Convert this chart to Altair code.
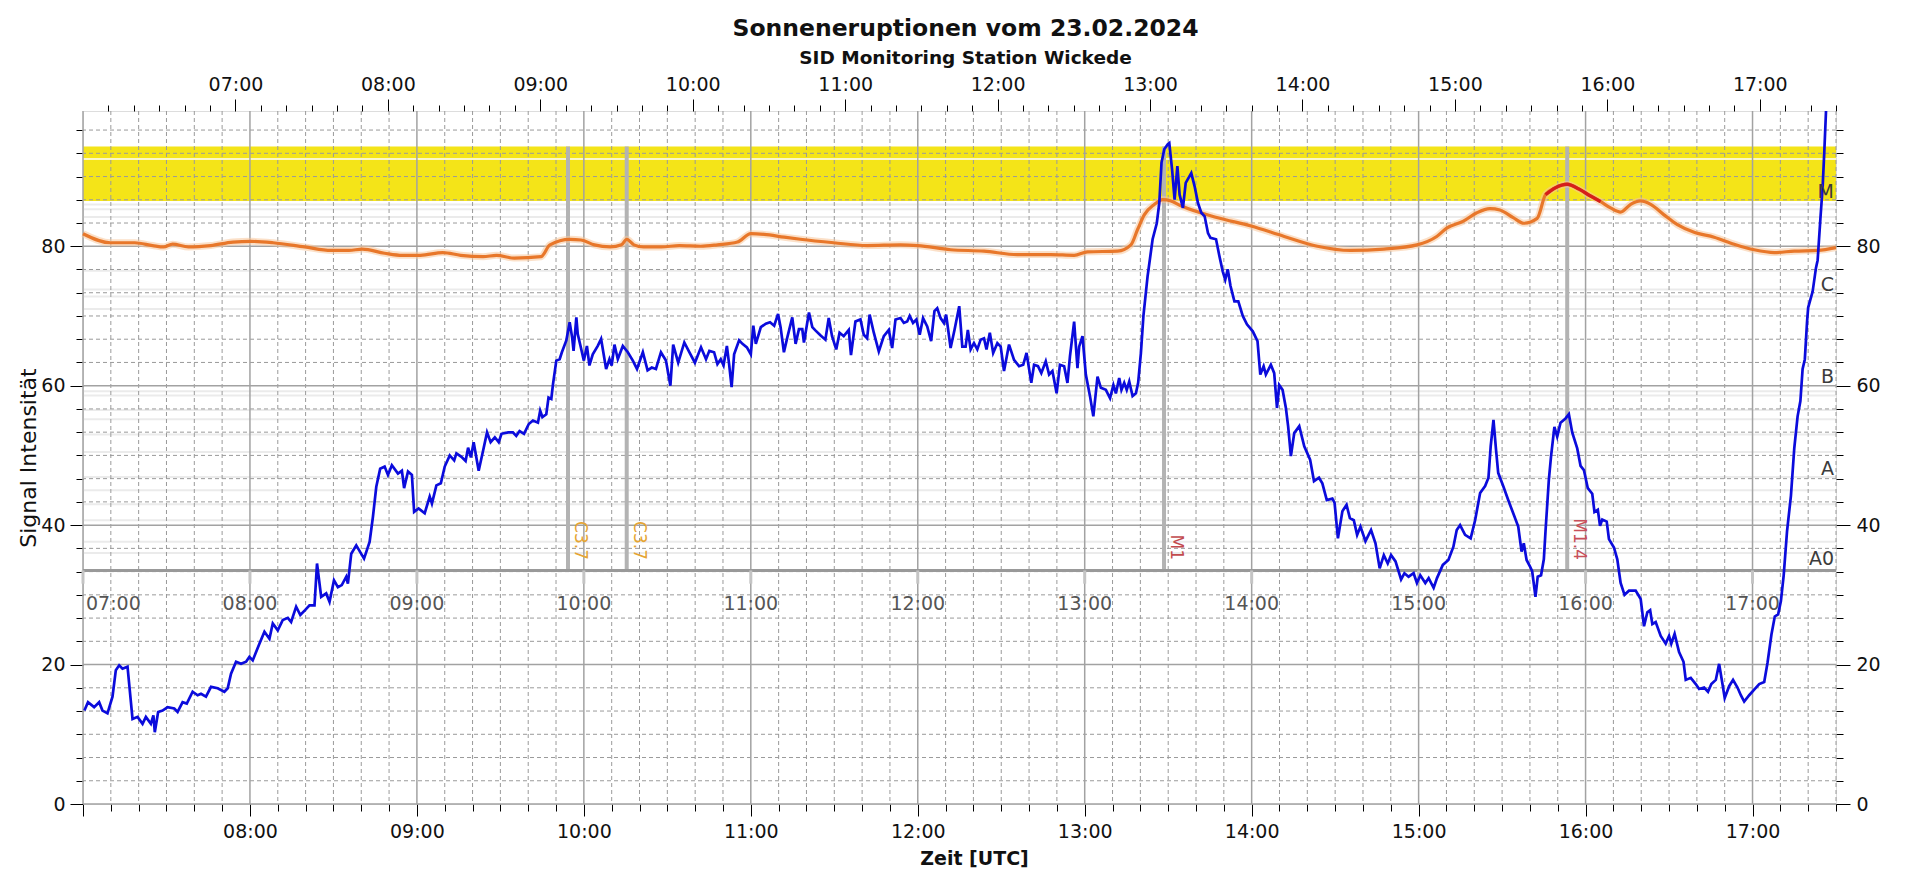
import altair as alt
import pandas as pd

# ---------------- data ----------------
# blue signal: (minutes after 07:00 UTC, value)
blue_a = [(0.5,13.4),(1.8,14.6),(4.0,13.9),(5.8,14.6),(7.0,13.4),(8.8,13.0),(10.6,15.4),(11.8,19.2),(13.0,19.9),
          (14.2,19.4),(16.0,19.7),(17.8,12.2),(19.6,12.5),(21.4,11.5),(22.6,12.5),(24.4,11.5),(25.3,12.7),(25.8,10.3),
          (27.0,13.2),(28.6,13.4),(30.4,13.9),(32.8,13.7),(34.0,13.2),(35.8,14.6),(37.3,14.4),(39.4,16.1),(41.2,15.6),
          (42.4,15.8),(44.2,15.4),(46.0,16.8),(48.4,16.6),(50.8,16.1),(52.0,16.6),(53.2,18.7),(55.0,20.4),(56.8,20.1),
          (58.6,20.4),(59.8,21.1),(61.0,20.6),(63.4,23.0),(65.2,24.7),(67.0,23.7),(68.2,25.9),(70.0,24.9),(71.8,26.4),
          (73.6,26.7),(74.8,26.1),(76.6,28.3),(78.1,27.1),(79.8,27.8),(81.4,28.5),(83.2,28.5),(84.1,34.5),(85.6,29.7),
          (87.4,30.2),(88.6,29.0),(90.2,32.1),(91.6,31.1),(93.0,31.4),(94.6,32.6),(95.2,31.6),(96.4,35.9),(98.2,37.1),
          (101.0,35.2),(103.0,37.6),(104.2,41.2),(105.4,45.5),(106.8,48.1),(108.4,48.4),(109.6,47.2),(111.0,48.6),
          (113.2,47.4),(114.6,47.8),(115.4,45.3),(116.8,47.7),(118.2,47.2),(119.0,41.9),(120.6,42.4),(122.8,41.7),
          (124.6,44.1),(125.4,43.1),(127.0,45.7),(128.6,46.0),(130.0,48.4),(131.8,50.0),(133.4,49.3),(134.2,50.3),
          (136.0,49.8)]
blue_b = [(137.5,49.2),(138.4,51.1),(139.4,49.7),(140.4,51.9),(142.2,47.8),(143.8,50.7),(145.2,53.3),(146.5,51.9),
          (148.0,52.6),(149.4,51.9),(150.4,53.1),(152.8,53.3),(154.5,53.3),(155.7,52.8),(156.9,53.5),(158.5,53.1),
          (160.2,54.5),(161.7,55.0),(163.5,54.7),(164.3,56.4),(165.1,55.5),(166.5,55.9),(167.3,58.3),(168.3,58.1),
          (168.9,60.2),(170.1,63.6),(171.3,63.8),(172.1,64.8),(173.7,66.5),(174.9,69.1),(175.8,66.9),(176.3,65.0),
          (177.3,69.8),(177.8,67.4),(178.8,65.7),(180.0,63.6),(181.1,65.7),(182.0,62.9),(183.2,64.5),(185.0,65.7),
          (186.2,66.7),(188.0,62.4),(189.2,63.8),(190.0,62.9),(191.0,65.9),(192.2,63.8),(194.0,65.7),(195.8,64.8),
          (197.6,63.6),(199.1,62.4),(201.2,64.8),(202.9,62.2),(204.4,62.6),(205.9,62.4),(207.7,64.8),(209.5,63.6),
          (211.1,60.0),(212.1,65.9),(213.9,63.3),(216.1,66.2),(217.9,64.8),(219.9,63.3),(222.1,65.5),(223.9,63.8),
          (225.1,65.0),(226.8,64.8),(228.0,63.1),(229.2,63.8),(230.2,62.9),(231.4,65.7),(232.2,63.1),(233.1,59.8),
          (234.0,64.5),(235.8,66.5),(237.0,66.0),(238.6,65.5),(240.0,64.5),(240.9,68.6),(241.8,66.0),(243.6,68.4),
          (245.4,68.9),(246.9,69.1),(248.4,68.6),(249.8,70.3),(250.7,68.4),(251.9,64.8),(253.1,66.9),(254.9,69.8),
          (256.1,66.0),(257.3,68.1),(258.5,68.1),(259.1,66.2),(260.9,70.5),(262.1,68.4),(263.3,67.9),(265.1,67.2)]
blue_c = [(266.8,66.6),(268.0,69.7),(269.2,67.1),(270.7,65.2),(271.9,67.6),(273.4,67.1),(275.2,68.0),(276.0,64.4),
          (277.6,69.2),(279.4,69.5),(280.6,67.3),(281.8,66.8),(282.7,70.2),(284.2,67.6),(286.0,64.9),(287.8,67.1),
          (289.6,68.0),(290.8,65.4),(292.0,69.5),(293.8,69.7),(295.0,69.0),(296.2,69.2),(297.1,70.0),(298.3,69.0),
          (299.5,69.5),(300.7,67.3),(301.9,69.7),(303.4,68.5),(304.8,66.4),(306.0,70.7),(307.0,71.1),(308.2,69.7),
          (309.4,69.0),(310.2,70.2),(311.8,65.4),(313.2,68.0),(314.9,71.4),(316.0,65.6),(317.2,65.6),(318.0,68.0),
          (319.0,65.2),(320.2,66.1),(321.4,65.2),(322.6,66.6),(323.8,66.8),(324.7,65.2),(325.9,67.6),(327.1,64.7),
          (328.6,66.1),(329.8,65.6),(331.0,62.1),(332.8,65.9),(334.6,63.7),(336.4,62.8),(337.9,63.0),(339.1,64.7),
          (340.8,60.4),(341.8,63.0),(343.2,62.8),(344.4,61.8),(346.0,63.5),(347.2,61.6),(348.4,62.1),(349.9,58.9),
          (351.1,63.0),(352.6,62.8),(353.8,60.4),(354.7,64.2),(356.2,69.2),(357.4,62.5),(358.0,65.6),(359.2,67.1),
          (360.4,61.6),(361.9,58.5),(363.1,55.6),(364.6,61.3),(365.8,59.7),(367.6,59.4),(369.1,58.2),(370.3,60.1),
          (371.2,58.9),(372.4,61.1),(373.2,59.4),(374.2,60.4),(375.1,59.4),(376.0,60.6),(377.2,58.5),(378.4,58.9),
          (379.2,60.4),(380.2,64.7),(381.1,70.0),(382.6,75.7),(384.4,81.0),(385.9,83.3),(386.8,86.2),(387.6,92.0),
          (388.6,93.9),(389.8,94.6),(390.4,94.8)]
blue_d = [(391.4,91.0),(392.3,86.7),(393.3,91.5),(394.1,87.4),(395.3,85.5),(396.3,89.1),(398.3,90.5),(399.5,88.6),
          (400.7,86.2),(401.9,84.8),(403.1,84.3),(404.3,81.9),(405.2,81.2),(407.2,81.0),(408.4,78.6),(409.6,76.4),
          (410.5,75.2),(411.4,76.7),(412.4,74.3),(413.8,72.1),(415.2,72.1),(416.8,70.0),(418.3,68.8),(420.4,67.8),
          (422.1,66.4),(423.1,61.6),(424.3,62.8),(425.1,61.6),(426.9,63.0),(428.1,61.8),(429.1,56.8),(429.9,60.1),
          (431.1,59.4),(432.3,56.8),(433.1,54.2),(434.1,49.9),(435.3,53.2),(437.1,54.2),(438.9,51.3),(441.0,49.4),
          (442.4,46.3),(444.2,46.8),(445.4,46.0),(447.0,43.6),(449.0,43.8),(449.8,43.2),(451.0,38.1),(452.6,42.0),
          (454.1,42.9),(455.3,41.0),(456.7,40.7),(457.9,38.6),(459.1,39.8),(460.9,37.7),(462.9,39.3),(464.5,37.4),
          (466.0,33.8),(467.5,35.7),(468.9,34.5),(470.1,35.7),(471.7,34.8),(473.7,32.2),(474.9,33.1),(476.4,32.6),
          (478.2,33.1),(479.4,31.7),(480.6,32.8),(482.4,31.7),(483.6,32.4),(485.4,31.0),(486.6,32.4),(488.7,34.3),
          (490.7,35.0),(492.5,36.9),(493.7,39.3),(494.9,40.0),(496.7,38.6),(498.7,38.1),(500.3,40.7),(502.1,44.6),
          (503.9,45.6),(505.1,46.8),(505.9,51.3),(506.9,55.1),(507.8,50.9),(508.6,47.5),(510.4,45.6),(512.2,43.6),
          (514.0,41.7),(515.8,39.8),(517.0,36.2),(517.8,37.4),(518.8,35.0),(520.0,34.1)]
blue_e = [(520.8,33.4),(522.0,29.7),(522.8,32.6),(524.0,32.8),(525.0,35.1),(525.6,39.1),(526.8,46.5),(527.6,49.9),
          (528.8,54.1),(529.8,52.7),(531.0,54.7),(532.8,55.3),(534.0,55.9),(535.2,53.3),(537.0,51.0),(538.2,48.5),
          (539.4,47.9),(540.8,45.3),(542.4,44.5),(543.2,41.9),(544.4,42.2),(545.2,39.9),(546.0,40.8),(547.6,40.5),
          (548.4,38.0),(550.2,36.8),(551.4,35.1),(552.6,31.7),(554.0,30.0),(555.6,30.6),(558.0,30.6),(559.8,29.4),
          (561.0,25.5),(562.2,27.5),(563.2,27.8),(564.0,25.8),(565.2,26.1),(567.0,24.1),(568.8,23.0),(570.0,24.1),
          (570.8,23.0),(572.0,24.4),(573.6,21.8),(575.2,20.4),(576.0,17.8),(577.8,18.1),(579.6,17.2),(580.8,16.5),
          (582.6,16.7),(584.0,16.1),(585.2,17.2),(586.8,17.8),(588.0,20.1),(589.2,17.2),(590.0,15.2),(591.6,16.9),
          (593.0,17.8),(594.6,16.7),(595.8,15.6),(597.0,14.7),(598.8,15.6),(600.6,16.4),(602.4,17.2),(604.2,17.5),
          (605.4,20.3),(606.8,24.3),(608.0,26.9),(609.2,27.2),(610.2,29.1),(611.2,32.8),(612.4,39.1),(613.8,44.2),
          (615.0,51.0),(616.2,55.6),(617.2,57.8),(618.0,62.4),(618.8,63.8),(619.6,69.2),(620.0,71.2),(621.6,73.5),
          (622.8,76.9),(623.4,78.0),(624.4,84.0),(625.2,88.5),(625.8,93.6),(626.4,99.3),(627.0,103.0)]

# orange reference signal: (minutes after 07:00 UTC, value)
orange_pts = [(0.0,81.8),(9.8,80.5),(18.6,80.5),(25.0,80.1),(29.0,79.9),(32.2,80.3),(37.9,79.9),(45.9,80.1),
              (53.9,80.6),(60.3,80.7),(68.3,80.5),(79.6,79.9),(89.2,79.4),(95.6,79.4),(100.4,79.6),(108.4,79.0),
              (114.8,78.7),(121.3,78.7),(129.3,79.1),(135.7,78.7),(143.8,78.5),(148.6,78.7),(155.0,78.3),(164.6,78.5),
              (167.8,80.2),(175.0,81.0),(179.0,80.9),(183.8,80.2),(189.5,79.9),(193.5,80.2),(195.4,81.0),(198.0,80.2),
              (201.5,79.9),(207.9,79.9),(214.3,80.1),(222.0,80.0),(228.0,80.2),(235.2,80.6),(240.0,81.8),(244.8,81.7),
              (252.0,81.3),(257.8,81.0),(269.8,80.5),(281.8,80.1),(293.8,80.2),(300.0,80.1),(311.8,79.5),(323.8,79.3),
              (335.8,78.8),(347.8,78.8),(356.2,78.7),(361.0,79.2),(371.8,79.3),(376.6,80.2),(379.0,82.4),(381.4,84.5),
              (385.0,86.0),(388.0,86.7),(391.0,86.5),(394.6,85.8),(407.8,84.1),(419.8,82.9),(431.7,81.4),(443.6,80.0),
              (455.5,79.4),(467.5,79.6),(479.4,80.2),(486.5,81.4),(490.1,82.6),(496.1,83.6),(500.9,84.8),(505.6,85.4),
              (509.2,85.2),(514.0,84.1),(517.8,83.3),(522.6,84.0),(525.6,87.4),(529.2,88.4),(533.4,88.9),(537.6,88.2),
              (541.8,87.2),(545.4,86.4),(549.0,85.5),(552.6,84.9),(556.2,86.0),(559.8,86.5),(563.4,86.0),(568.2,84.5),
              (573.0,83.1),(579.0,82.0),(586.2,81.3),(593.4,80.3),(600.6,79.5),(607.8,79.1),(615.0,79.3),(623.4,79.4),
              (630.0,79.8)]

flare_min = [174.3, 195.4, 388.5, 533.4]
flare_text = ["C3.7", "C3.7", "M1", "M1.4"]
flare_color = ["#E5A534", "#E5A534", "#C24B4E", "#C8505A"]

class_text = ["M", "C", "B", "A", "A0"]
class_val = [87.8, 74.5, 61.3, 48.1, 35.1]

band_range = [86.5, 94.3]          # yellow M-band
marker_range = [33.5, 94.3]        # flare marker lines
inner_axis_val = 33.5
inner_tick_end = 31.6
inner_label_val = 28.7
inner_hours = [7, 8, 9, 10, 11, 12, 13, 14, 15, 16, 17]
faint_levels = [92.5, 86.0, 85.3, 84.2, 76.5, 73.8, 72.8, 71.0, 59.2, 58.6, 56.5, 55.2, 53.0,
                50.5, 46.9, 45.0, 43.0, 40.7, 37.6, 36.0]

x_domain = [7.0, 17.5]     # bottom axis (UTC hours)
top_domain = [6.0, 17.5]   # top axis hours
y_domain = [0, 99.4]

# tick positions
x_ticks = [round(7 + i / 6, 4) for i in range(0, 64)]
top_ticks = [round(6 + i / 6, 4) for i in range(1, 70)]
y_ticks = [round(i * 10 / 3, 3) for i in range(0, 30)]

# ---------------- frames ----------------
def to_df(pts, name):
    d = pd.DataFrame(pts, columns=["m", "v"])
    d["t"] = 7 + d["m"] / 60
    d["s"] = name
    return d

blue_df = pd.concat([to_df(p, "b") for p in [blue_a, blue_b, blue_c, blue_d, blue_e]], ignore_index=True)
orange_df = to_df(orange_pts, "o")
flare_df = pd.DataFrame({"t": [7 + m / 60 for m in flare_min], "txt": flare_text, "col": flare_color,
                         "lo": marker_range[0], "hi": marker_range[1], "ly": 35.0})
class_df = pd.DataFrame({"txt": class_text, "v": class_val, "t": x_domain[1]})
band_df = pd.DataFrame({"x0": [x_domain[0]], "x1": [x_domain[1]], "lo": [band_range[0]], "hi": [band_range[1]]})
faint_df = pd.DataFrame({"v": faint_levels, "white": [l == 92.5 for l in faint_levels]})
vminor_df = pd.DataFrame({"t": [t for t in x_ticks if abs(t - round(t)) > 0.01]})
vmajor_df = pd.DataFrame({"t": [t for t in x_ticks if abs(t - round(t)) < 0.01]})
hminor_df = pd.DataFrame({"v": [v for v in y_ticks if abs(v - 20 * round(v / 20)) > 0.01]})
hmajor_df = pd.DataFrame({"v": [v for v in y_ticks if abs(v - 20 * round(v / 20)) < 0.01]})
inner_df = pd.DataFrame({"t": inner_hours, "lab": ["%02d:00" % h for h in inner_hours],
                         "y0": inner_axis_val, "y1": inner_tick_end, "ly": inner_label_val})
axis_line_df = pd.DataFrame({"v": [inner_axis_val]})

FONT = "DejaVu Sans"
xs = alt.Scale(domain=x_domain, nice=False, zero=False)
ys = alt.Scale(domain=y_domain, nice=False, zero=False)

def X(f):
    return alt.X(f, type="quantitative", scale=xs, axis=None)

def Y(f):
    return alt.Y(f, type="quantitative", scale=ys, axis=None)

hour_test = "abs(datum.value - round(datum.value)) < 0.001"
twenty_test = "abs(datum.value - 20*round(datum.value/20)) < 0.01"
hour_label = "(round(datum.value) < 10 ? '0' : '') + round(datum.value) + ':00'"

bottom_axis = alt.Axis(
    orient="bottom", values=x_ticks, grid=False, domain=False,
    labelExpr=f"({hour_test}) && datum.value > 7.5 ? {hour_label} : ''",
    tickSize={"condition": {"test": hour_test, "value": 12}, "value": 7},
    tickColor="black", tickWidth=1, labelFont=FONT, labelFontSize=19, labelColor="#111111",
    labelPadding=6, labelOverlap=False, labelFlush=False, labelBound=False,
    title="Zeit [UTC]", titleFont=FONT, titleFontSize=19, titleFontWeight="bold", titleColor="#111111",
    titlePadding=8, titleX=891)

left_axis = alt.Axis(
    orient="left", values=y_ticks, grid=False, domain=False,
    labelExpr=f"{twenty_test} ? format(datum.value, 'd') : ''",
    tickSize={"condition": {"test": twenty_test, "value": 13}, "value": 7},
    tickColor="black", labelFont=FONT, labelFontSize=19, labelColor="#111111", labelPadding=5,
    labelOverlap=False, labelFlush=False, labelBound=False,
    title="Signal Intensität", titleFont=FONT, titleFontSize=22, titleFontWeight="normal",
    titleColor="#111111", titlePadding=0)

top_axis = alt.Axis(
    orient="top", values=top_ticks, grid=False, domain=False,
    labelExpr=f"({hour_test}) ? {hour_label} : ''",
    tickSize={"condition": {"test": hour_test, "value": 12}, "value": 6},
    tickColor="black", labelFont=FONT, labelFontSize=19, labelColor="#111111", labelPadding=5,
    labelOverlap=False, labelFlush=False, labelBound=False, title=None)

right_axis = alt.Axis(
    orient="right", values=y_ticks, grid=False, domain=False,
    labelExpr=f"{twenty_test} ? format(datum.value, 'd') : ''",
    tickSize={"condition": {"test": twenty_test, "value": 14}, "value": 7},
    tickColor="black", labelFont=FONT, labelFontSize=19, labelColor="#111111", labelPadding=6,
    labelOverlap=False, labelFlush=False, labelBound=False, title=None)

band = alt.Chart(band_df).mark_rect(color="#F4E418").encode(
    x=X("x0"), x2="x1", y=Y("lo"), y2="hi")

faint = alt.Chart(faint_df).mark_rule(strokeWidth=2).encode(
    y=Y("v"),
    color=alt.condition("datum.white", alt.value("#FBF7C8"), alt.value("#EBEBEB")))

hminor = alt.Chart(hminor_df).mark_rule(color="#9A9A9A", strokeWidth=1, strokeDash=[4, 3]).encode(y=Y("v"))
vminor = alt.Chart(vminor_df).mark_rule(color="#9A9A9A", strokeWidth=1, strokeDash=[4, 3]).encode(x=X("t"))
hmajor = alt.Chart(hmajor_df).mark_rule(color="#A2A2A2", strokeWidth=1.5).encode(y=Y("v"))
vmajor = alt.Chart(vmajor_df).mark_rule(color="#A2A2A2", strokeWidth=1.5).encode(x=X("t"))

markers = alt.Chart(flare_df).mark_rule(color="#B3B3B3", strokeWidth=4).encode(
    x=X("t"), y=Y("lo"), y2="hi")

axis_line = alt.Chart(axis_line_df).mark_rule(color="#999999", strokeWidth=3).encode(y=Y("v"))
inner_ticks = alt.Chart(inner_df).mark_rule(color="#C4C4C4", strokeWidth=3).encode(
    x=X("t"), y=Y("y0"), y2="y1")
inner_labels = alt.Chart(inner_df).transform_filter("datum.t > 7").mark_text(
    font=FONT, fontSize=19, color="#555555", baseline="middle", align="center").encode(
    x=X("t"), y=Y("ly"), text="lab:N")
inner_first = alt.Chart(inner_df).transform_filter("datum.t == 7").mark_text(
    font=FONT, fontSize=19, color="#555555", baseline="middle", align="left", dx=3).encode(
    x=X("t"), y=Y("ly"), text="lab:N")

orange_glow = alt.Chart(orange_df).mark_line(color="#F7C79B", strokeWidth=7, opacity=0.55,
                                            interpolate="monotone").encode(x=X("t"), y=Y("v"), order="m:Q")
orange = alt.Chart(orange_df).mark_line(color="#E8772A", strokeWidth=3.2,
                                       interpolate="monotone").encode(x=X("t"), y=Y("v"), order="m:Q")
red = alt.Chart(orange_df).transform_filter("datum.m > 524 && datum.m < 546").mark_line(
    color="#D51F1A", strokeWidth=3.4, interpolate="monotone").encode(x=X("t"), y=Y("v"), order="m:Q")

blue = alt.Chart(blue_df).mark_line(color="#0B0BDC", strokeWidth=2.7, clip=True).encode(
    x=X("t"), y=Y("v"), order="m:Q")

flare_labels = alt.Chart(flare_df).mark_text(
    font=FONT, fontSize=17, angle=90, align="right", baseline="middle", dy=-12).encode(
    x=X("t"), y=Y("ly"), text="txt:N", color=alt.Color("col:N", scale=None))

class_labels = alt.Chart(class_df).mark_text(
    font=FONT, fontSize=19, color="#3C3C3C", align="right", baseline="middle", dx=-2).encode(
    x=X("t"), y=Y("v"), text="txt:N")

inner = alt.layer(band, faint, hminor, vminor, hmajor, vmajor, markers, axis_line, inner_ticks,
                  inner_labels, inner_first, orange_glow, orange, red, blue, flare_labels, class_labels)

bottom_layer = alt.Chart(pd.DataFrame({"t": x_domain})).mark_rule(opacity=0).encode(
    x=alt.X("t", type="quantitative", scale=alt.Scale(domain=x_domain, nice=False, zero=False), axis=bottom_axis))
left_layer = alt.Chart(pd.DataFrame({"v": y_domain})).mark_rule(opacity=0).encode(
    y=alt.Y("v", type="quantitative", scale=alt.Scale(domain=y_domain, nice=False, zero=False), axis=left_axis))
top_layer = alt.Chart(pd.DataFrame({"t": top_domain})).mark_rule(opacity=0).encode(
    x=alt.X("t", type="quantitative", scale=alt.Scale(domain=top_domain, nice=False, zero=False), axis=top_axis))
right_layer = alt.Chart(pd.DataFrame({"v": y_domain})).mark_rule(opacity=0).encode(
    y=alt.Y("v", type="quantitative", scale=alt.Scale(domain=y_domain, nice=False, zero=False), axis=right_axis))

chart = alt.layer(inner, bottom_layer, left_layer, top_layer, right_layer).resolve_scale(
    x="independent", y="independent"
).properties(
    width=1753, height=693,
    autosize=alt.AutoSizeParams(type="none"),
    padding={"left": 75, "top": 103, "right": 76, "bottom": 67},
    title=alt.TitleParams(
        text="Sonneneruptionen vom 23.02.2024", subtitle="SID Monitoring Station Wickede",
        font=FONT, fontSize=23.5, fontWeight="bold", color="#111111",
        subtitleFont=FONT, subtitleFontSize=18.5, subtitleFontWeight="bold", subtitleColor="#111111",
        anchor="middle", offset=8, subtitlePadding=8, dx=6)
).configure_view(stroke="black", strokeWidth=1.5).configure(background="white")

chart.save("out.html", embed_options={"renderer": "svg", "actions": False})
